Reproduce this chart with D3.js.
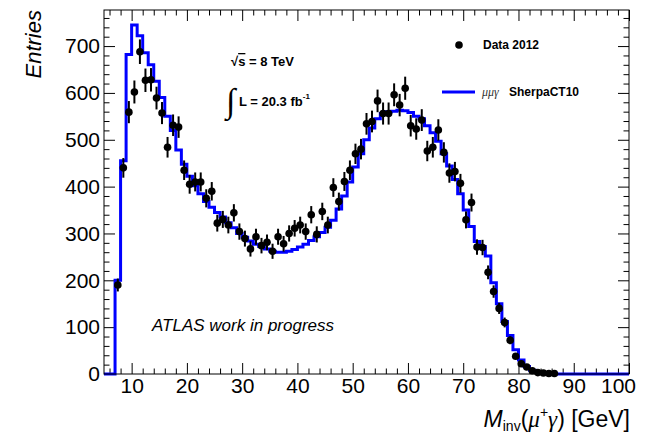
<!DOCTYPE html>
<html><head><meta charset="utf-8">
<script src="https://cdn.jsdelivr.net/npm/d3@7"></script>
<style>body{margin:0;background:#fff}svg{display:block}</style>
</head><body>
<svg id="chart" width="652" height="436"></svg>
<script>
// ---- data ----
const modelBinLow = [5,6,7,8,9,10,11,12,13,14,15,16,17,18,19,20,21,22,23,24,25,26,27,28,29,30,31,32,33,34,35,36,37,38,39,40,41,42,43,44,45,46,47,48,49,50,51,52,53,54,55,56,57,58,59,60,61,62,63,64,65,66,67,68,69,70,71,72,73,74,75,76,77,78,79,80,81,82,83,84,85,86,87,88,89,90,91,92,93,94,95,96,97,98,99];
const modelValues = [0,0,200,455,682,745,722,686,660,625,
  590,550,520,478,448,422,402,385,368,356,
  345,335,323,312,300,292,284,277,272,267,
  262,260,260,262,266,271,277,285,293,302,
  313,328,352,380,410,442,470,500,525,545,
  556,560,561,563,562,558,550,545,530,515,
  497,470,444,415,385,350,315,283,272,252,
  195,150,112,82,52,30,16,8,4,2,
  1,0,0,0,0,0,0,0,0,0,
  0,0,0,0,0];
const dataCenters = [7.5,8.5,9.5,10.5,11.5,12.5,13.5,14.5,15.5,16.5,17.5,18.5,19.5,20.5,21.5,22.5,23.5,24.5,25.5,26.5,27.5,28.5,29.5,30.5,31.5,32.5,33.5,34.5,35.5,36.5,37.5,38.5,39.5,40.5,41.5,42.5,43.5,44.5,45.5,46.5,47.5,48.5,49.5,50.5,51.5,52.5,53.5,54.5,55.5,56.5,57.5,58.5,59.5,60.5,61.5,62.5,63.5,64.5,65.5,66.5,67.5,68.5,69.5,70.5,71.5,72.5,73.5,74.5,75.5,76.5,77.5,78.5,79.5,80.5,81.5,82.5,83.5,84.5,85.5,86.5];
const dataValues = [190,440,559,602,688,627,628,589,557,484,
  531,527,435,405,410,410,375,390,322,330,
  318,344,304,289,267,293,274,281,262,293,
  278,300,311,318,304,340,298,347,318,398,
  368,411,435,470,480,534,539,583,556,556,
  596,574,610,530,523,542,476,484,521,473,
  429,432,407,329,366,271,270,217,176,140,
  110,72,38,22,15,7,3,2,1,1];
const xTickValues = [10,20,30,40,50,60,70,80,90,100];
const yTickValues = [0,100,200,300,400,500,600,700];
const xDomain = [5,100];
const yDomain = [0,777];

// ---- layout ----
const svg = d3.select("#chart");
const L = 104, R = 629, T = 10, B = 374;
const x = d3.scaleLinear().domain(xDomain).range([L, R]);
const y = d3.scaleLinear().domain(yDomain).range([B, T]);
const FONT = "'Liberation Sans', Arial, Helvetica, sans-serif";
const SERIF = "'Liberation Serif', 'Times New Roman', serif";

const xMinor = d3.range(6, 100, 2).filter(v => v % 10 !== 0);
const yMinor = d3.range(20, 777, 20).filter(v => v % 100 !== 0);

function styleAxis(g){
  g.select(".domain").remove();
  g.selectAll(".tick line").attr("stroke","#000").attr("stroke-width",1);
  g.selectAll("text").attr("font-family",FONT).attr("font-size",21).attr("fill","#000");
}
// bottom
svg.append("g").attr("transform",`translate(0,${B})`)
  .call(d3.axisBottom(x).tickValues(xTickValues).tickSize(-11).tickPadding(4).tickFormat(d3.format("d")))
  .call(styleAxis)
  .call(g => g.selectAll(".tick text").filter(d => d === 100).attr("x", -11));
svg.append("g").attr("transform",`translate(0,${B})`)
  .call(d3.axisBottom(x).tickValues(xMinor).tickSize(-5.5).tickFormat(""))
  .call(styleAxis);
// top
svg.append("g").attr("transform",`translate(0,${T})`)
  .call(d3.axisTop(x).tickValues(xTickValues).tickSize(-11).tickFormat(""))
  .call(styleAxis);
svg.append("g").attr("transform",`translate(0,${T})`)
  .call(d3.axisTop(x).tickValues(xMinor).tickSize(-5.5).tickFormat(""))
  .call(styleAxis);
// left
svg.append("g").attr("transform",`translate(${L},0)`)
  .call(d3.axisLeft(y).tickValues(yTickValues).tickSize(-11).tickPadding(4).tickFormat(d3.format("d")))
  .call(styleAxis);
svg.append("g").attr("transform",`translate(${L},0)`)
  .call(d3.axisLeft(y).tickValues(yMinor).tickSize(-5.5).tickFormat(""))
  .call(styleAxis);
// right
svg.append("g").attr("transform",`translate(${R},0)`)
  .call(d3.axisRight(y).tickValues(yTickValues).tickSize(-11).tickFormat(""))
  .call(styleAxis);
svg.append("g").attr("transform",`translate(${R},0)`)
  .call(d3.axisRight(y).tickValues(yMinor).tickSize(-5.5).tickFormat(""))
  .call(styleAxis);

// model histogram (step)
const stepPts = modelBinLow.map((b,i)=>[b, modelValues[i]]);
stepPts.push([xDomain[1], modelValues[modelValues.length-1]]);
const stepLine = d3.line().x(d=>x(d[0])).y(d=>y(d[1])).curve(d3.curveStepAfter);
svg.append("path").attr("d", stepLine(stepPts))
  .attr("fill","none").attr("stroke","#0000ff").attr("stroke-width",3);

// data points with error bars
const pts = dataCenters.map((c,i)=>({c, v:dataValues[i]}));
const gData = svg.append("g");
gData.selectAll("line.err").data(pts).join("line")
  .attr("x1",d=>x(d.c)).attr("x2",d=>x(d.c))
  .attr("y1",d=>y(Math.max(0,d.v-Math.sqrt(d.v)))).attr("y2",d=>y(d.v+Math.sqrt(d.v)))
  .attr("stroke","#000").attr("stroke-width",2);
gData.selectAll("circle").data(pts).join("circle")
  .attr("cx",d=>x(d.c)).attr("cy",d=>y(d.v)).attr("r",3.8).attr("fill","#000");

// frame
svg.append("rect").attr("x",L).attr("y",T).attr("width",R-L).attr("height",B-T)
  .attr("fill","none").attr("stroke","#000").attr("stroke-width",1);

// axis titles
svg.append("text").attr("transform",`translate(41,${T}) rotate(-90)`)
  .attr("text-anchor","end").attr("font-family",FONT).attr("font-style","italic")
  .attr("font-size",22).text("Entries");

const xt = svg.append("text").attr("x",630).attr("y",427).attr("text-anchor","end")
  .attr("font-family",FONT).attr("font-size",23);
xt.append("tspan").attr("font-style","italic").text("M");
xt.append("tspan").attr("font-size",14).attr("dy",4).text("inv");
xt.append("tspan").attr("dy",-4).text("(");
xt.append("tspan").attr("font-family",SERIF).attr("font-style","italic").text("μ");
xt.append("tspan").attr("font-size",14).attr("dy",-10).text("+");
xt.append("tspan").attr("dy",10).attr("font-family",SERIF).attr("font-style","italic").text("γ");
xt.append("tspan").text(") [GeV]");

// annotations
const rs = svg.append("text").attr("x",231).attr("y",66).attr("font-family",FONT).attr("font-weight","bold")
  .attr("font-size",13);
rs.append("tspan").text("√");
rs.append("tspan").style("text-decoration","overline").text("s");
rs.append("tspan").text(" = 8 TeV");
svg.append("text").attr("x",226).attr("y",112).attr("font-family",SERIF)
  .attr("font-size",34).text("∫");
const lum = svg.append("text").attr("x",239).attr("y",106).attr("font-family",FONT)
  .attr("font-weight","bold").attr("font-size",13);
lum.append("tspan").text("L = 20.3 fb");
lum.append("tspan").attr("font-size",8).attr("dy",-7).text("-1");

svg.append("text").attr("x",152).attr("y",331).attr("font-family",FONT)
  .attr("font-style","italic").attr("font-size",17).text("ATLAS work in progress");

// legend
svg.append("circle").attr("cx",459).attr("cy",45).attr("r",3.8).attr("fill","#000");
svg.append("text").attr("x",483).attr("y",49).attr("font-family",FONT).attr("font-weight","bold")
  .attr("font-size",12).text("Data 2012");
svg.append("line").attr("x1",442).attr("x2",475).attr("y1",92).attr("y2",92)
  .attr("stroke","#0000ff").attr("stroke-width",3);
svg.append("text").attr("x",482).attr("y",96).attr("font-family",SERIF).attr("font-style","italic")
  .attr("font-size",12).attr("fill","#333").text("μμγ");
svg.append("text").attr("x",509).attr("y",96).attr("font-family",FONT).attr("font-weight","bold")
  .attr("font-size",12).text("SherpaCT10");
</script>
</body></html>
